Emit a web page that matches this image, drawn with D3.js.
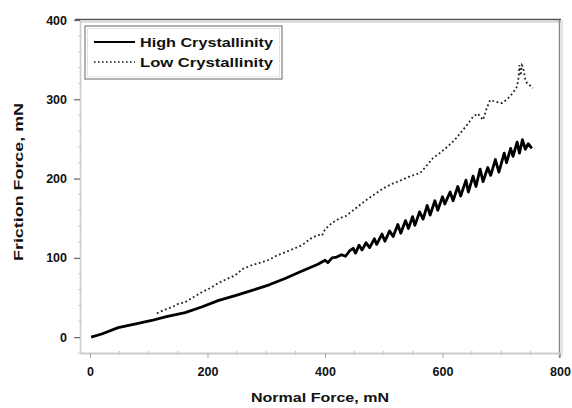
<!DOCTYPE html>
<html>
<head>
<meta charset="utf-8">
<script src="https://cdn.jsdelivr.net/npm/d3@7/dist/d3.min.js"></script>
<style>
  html, body { margin: 0; padding: 0; background: #fff; }
  svg { display: block; }
  text { font-family: "Liberation Sans", Arial, sans-serif; font-weight: bold; fill: #111; }
</style>
</head>
<body>
<svg id="chart" width="572" height="408"></svg>
<script>
// Friction force vs. normal force for two crystallinity levels
const seriesNames = ["High Crystallinity", "Low Crystallinity"];

const xTicks = [0, 200, 400, 600, 800];
const yTicks = [0, 100, 200, 300, 400];
const xTitle = "Normal Force, mN";
const yTitle = "Friction Force, mN";

// [normal force (mN), friction force (mN)]
const highCrystallinity = [
  [2, 0], [20, 4], [48, 12], [80, 17], [105, 21], [130, 26], [162, 31],
  [190, 38], [218, 46], [250, 53], [276, 59], [305, 66], [332, 74],
  [360, 83], [388, 92], [400, 97], [405, 94], [412, 100], [420, 101],
  [428, 104], [435, 102], [442, 109], [448, 112], [452, 106],
  [458, 116], [463, 110], [470, 119], [476, 113], [484, 124], [488, 117],
  [497, 130], [502, 121], [510, 134], [516, 127], [524, 142], [529, 131],
  [537, 147], [542, 137], [549, 152], [553, 141], [561, 158], [567, 149],
  [574, 166], [579, 154], [587, 172], [592, 160], [600, 177], [604, 168],
  [613, 183], [618, 172], [626, 190], [631, 178], [640, 198], [644, 183],
  [652, 203], [657, 190], [664, 212], [669, 196], [677, 214], [682, 204],
  [690, 224], [696, 208], [705, 232], [709, 220], [716, 238], [720, 228],
  [727, 246], [731, 232], [736, 249], [741, 237], [746, 244], [752, 238]
];

const lowCrystallinity = [
  [114, 30], [125, 34], [140, 38], [150, 42], [162, 44], [175, 50],
  [191, 57], [205, 62], [218, 68], [232, 73], [247, 78], [260, 86],
  [276, 91], [290, 94], [303, 97], [318, 103], [332, 107], [345, 111],
  [361, 116], [375, 124], [388, 129], [395, 128], [400, 136], [412, 144],
  [425, 150], [436, 153], [448, 160], [465, 170], [482, 179], [500, 188],
  [516, 194], [530, 198], [545, 203], [562, 207], [575, 218], [584, 226],
  [595, 232], [608, 240], [620, 248], [630, 257], [640, 266], [652, 278],
  [660, 282], [669, 274], [675, 288], [681, 299], [690, 297], [701, 295],
  [710, 300], [720, 308], [726, 315], [729, 324], [731, 343], [733, 330],
  [735, 343], [737, 341], [741, 325], [744, 320], [748, 318], [754, 314]
];

const svg = d3.select("#chart");

const x = d3.scaleLinear().domain([-17, 800]).range([80, 560]);
const y = d3.scaleLinear().domain([-20, 400]).range([353, 20]);

// frame: heavy top edge and right edge
svg.append("line").attr("x1", 75).attr("x2", 561).attr("y1", 19.5).attr("y2", 19.5)
  .attr("stroke", "#555").attr("stroke-width", 1.6);
svg.append("line").attr("x1", 80).attr("x2", 561).attr("y1", 22).attr("y2", 22)
  .attr("stroke", "#bbb").attr("stroke-width", 1);
svg.append("line").attr("x1", 559.5).attr("x2", 559.5).attr("y1", 20).attr("y2", 358)
  .attr("stroke", "#888").attr("stroke-width", 1.4);
svg.append("line").attr("x1", 562).attr("x2", 562).attr("y1", 20).attr("y2", 356)
  .attr("stroke", "#ccc").attr("stroke-width", 1);

// minor ticks
const minorX = d3.range(0, 801, 50).filter(v => v % 200 !== 0);
const minorY = d3.range(-20, 401, 20).filter(v => v % 100 !== 0);
svg.append("g").selectAll("line").data(minorX).join("line")
  .attr("x1", d => x(d)).attr("x2", d => x(d))
  .attr("y1", y(-20) - 2).attr("y2", y(-20) + 2)
  .attr("stroke", "#bbb").attr("stroke-width", 1);
svg.append("g").selectAll("line").data(minorY).join("line")
  .attr("x1", x(-17) - 2).attr("x2", x(-17) + 2)
  .attr("y1", d => y(d)).attr("y2", d => y(d))
  .attr("stroke", "#ccc").attr("stroke-width", 1);

// y axis
const yAxis = svg.append("g").attr("transform", `translate(${x(-17)},0)`)
  .call(d3.axisLeft(y).tickValues(yTicks).tickSize(6).tickPadding(7).tickSizeOuter(0));
yAxis.select(".domain").attr("stroke", "#ccc").attr("stroke-width", 1.6);
yAxis.selectAll(".tick line").attr("stroke", "#666").attr("stroke-width", 1.2);
yAxis.selectAll(".tick text").style("font-size", "12.5px").attr("fill", "#111")
  .attr("font-family", "Liberation Sans, Arial, sans-serif").attr("font-weight", "bold");

// x axis
const xAxis = svg.append("g").attr("transform", `translate(0,${y(-20)})`)
  .call(d3.axisBottom(x).tickValues(xTicks).tickSize(5).tickPadding(9).tickSizeOuter(0));
xAxis.select(".domain").attr("stroke", "#ccc").attr("stroke-width", 1.8);
xAxis.selectAll(".tick line").attr("stroke", "#aaa").attr("stroke-width", 1);
xAxis.selectAll(".tick text").style("font-size", "12.5px").attr("fill", "#111")
  .attr("font-family", "Liberation Sans, Arial, sans-serif").attr("font-weight", "bold");

// axis titles
svg.append("text").attr("x", 320).attr("y", 402).attr("text-anchor", "middle")
  .attr("textLength", 138).attr("lengthAdjust", "spacingAndGlyphs")
  .style("font-size", "12px").text(xTitle);
svg.append("text")
  .attr("transform", `translate(23,182) rotate(-90)`)
  .attr("text-anchor", "middle")
  .attr("textLength", 158).attr("lengthAdjust", "spacingAndGlyphs")
  .style("font-size", "12.5px").text(yTitle);

// data lines
const line = d3.line().x(d => x(d[0])).y(d => y(d[1]));
svg.append("path").datum(lowCrystallinity).attr("d", line)
  .attr("fill", "none").attr("stroke", "#222").attr("stroke-width", 1.8)
  .attr("stroke-dasharray", "1.8,2.6");
svg.append("path").datum(highCrystallinity).attr("d", line)
  .attr("fill", "none").attr("stroke", "#000").attr("stroke-width", 2.8)
  .attr("stroke-linejoin", "round");

// legend
const legend = svg.append("g");
legend.append("rect").attr("x", 85).attr("y", 26).attr("width", 197).attr("height", 53)
  .attr("fill", "#fff").attr("stroke", "#888").attr("stroke-width", 1.3);
legend.append("rect").attr("x", 87.5).attr("y", 28.5).attr("width", 192).attr("height", 48)
  .attr("fill", "none").attr("stroke", "#ddd").attr("stroke-width", 0.8);
const styles = [
  { dash: null, width: 2.2, color: "#000" },
  { dash: "1.6,2.4", width: 1.5, color: "#222" }
];
seriesNames.forEach((name, i) => {
  const ly = 42 + i * 20;
  legend.append("line").attr("x1", 94).attr("x2", 135).attr("y1", ly).attr("y2", ly)
    .attr("stroke", styles[i].color).attr("stroke-width", styles[i].width)
    .attr("stroke-dasharray", styles[i].dash);
  legend.append("text").attr("x", 140).attr("y", ly + 4.5)
    .attr("textLength", 133).attr("lengthAdjust", "spacingAndGlyphs")
    .style("font-size", "13px").text(name);
});
</script>
</body>
</html>
